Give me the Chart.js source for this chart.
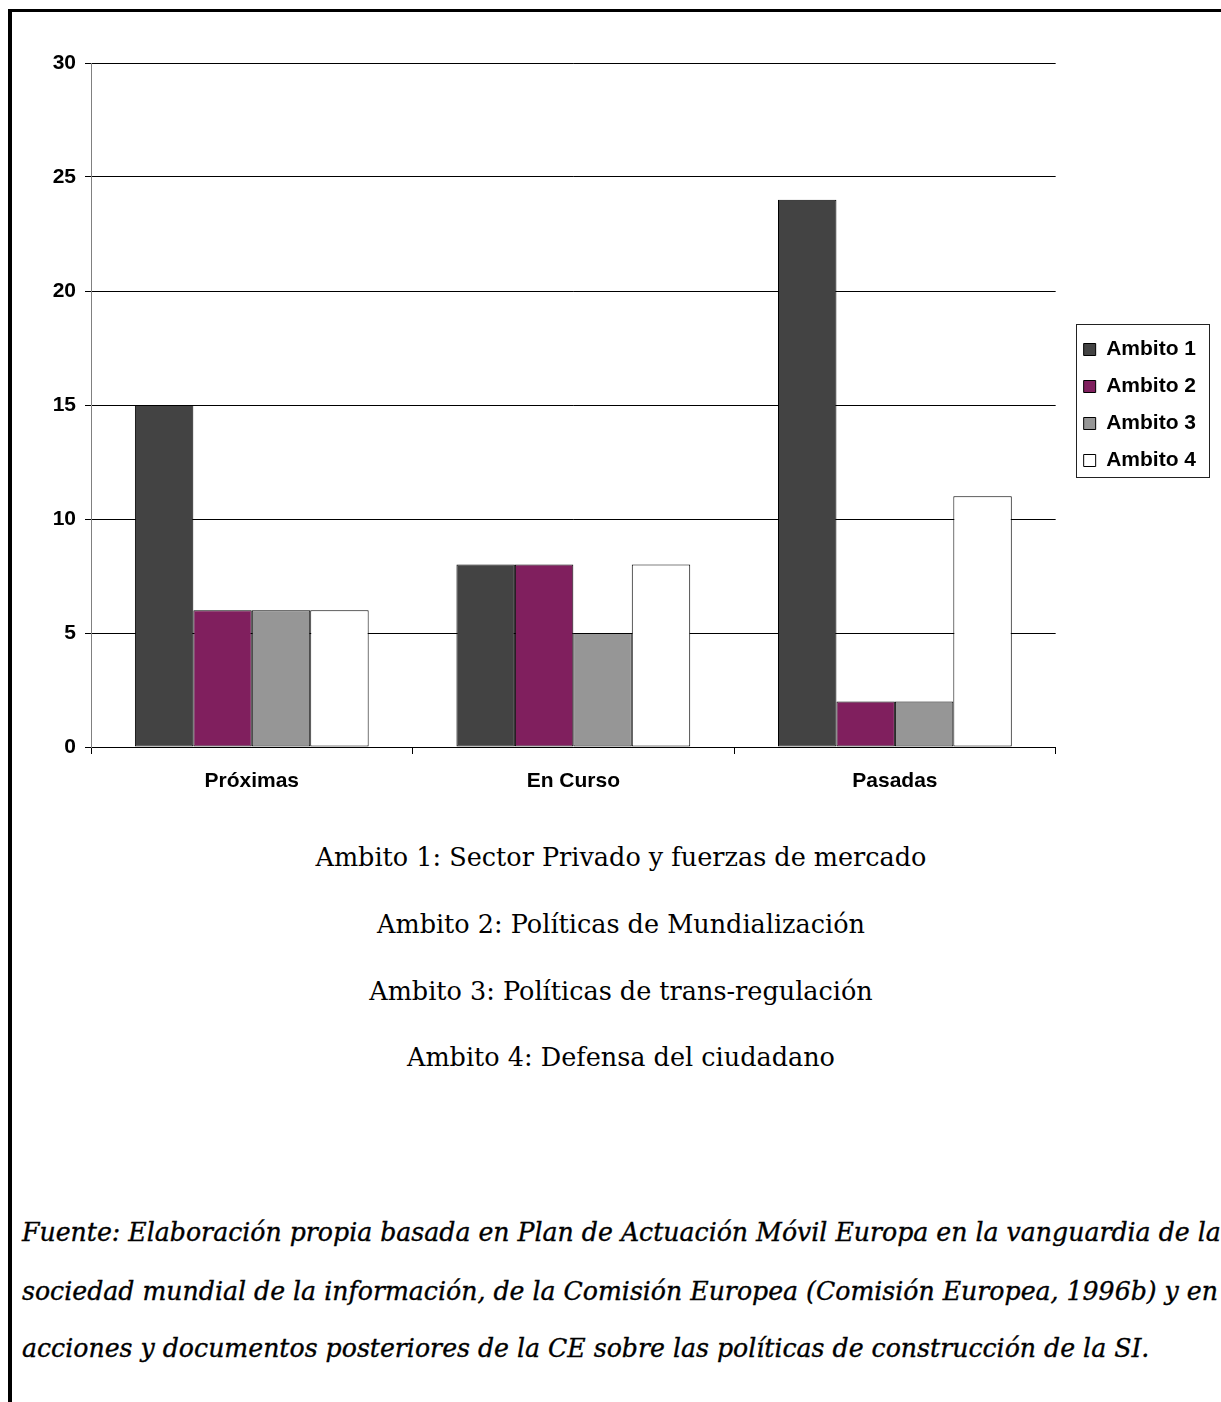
<!DOCTYPE html>
<html lang="es">
<head>
<meta charset="utf-8">
<title>Ámbitos de actuación</title>
<script src="https://cdn.jsdelivr.net/npm/chart.js@4.4.1/dist/chart.umd.min.js"></script>
<style>
  html, body { margin: 0; padding: 0; background: #fff; overflow: hidden; }
  body { width: 1221px; height: 1402px; position: relative; }
  .frame {
    position: absolute; left: 8px; top: 9px; width: 2000px; height: 2000px;
    border-top: 3px solid #000; border-left: 4px solid #000;
  }
  #chart { position: absolute; left: 0; top: 0; }
  .caption {
    position: absolute; left: 0; width: 1242px; height: 40px; line-height: 40px;
    text-align: center; font-family: "DejaVu Serif", serif; font-size: 25.5px; color: #000;
    white-space: nowrap;
  }
  .source {
    position: absolute; left: 22px; height: 40px; line-height: 40px;
    font-family: "DejaVu Serif", serif; font-style: italic; font-size: 25.2px; color: #000;
    -webkit-text-stroke: 0.35px #000;
    white-space: nowrap;
  }
</style>
</head>
<body>
<div class="frame"></div>
<canvas id="chart" width="1221" height="810"></canvas>

<div class="caption" style="top:837px">Ambito 1: Sector Privado y fuerzas de mercado</div>
<div class="caption" style="top:904px">Ambito 2: Políticas de Mundialización</div>
<div class="caption" style="top:971px">Ambito 3: Políticas de trans-regulación</div>
<div class="caption" style="top:1037px">Ambito 4: Defensa del ciudadano</div>

<div class="source" style="top:1213px">Fuente: Elaboración propia basada en Plan de Actuación Móvil Europa en la vanguardia de la</div>
<div class="source" style="top:1272px">sociedad mundial de la información, de la Comisión Europea (Comisión Europea, 1996b) y en</div>
<div class="source" style="top:1329px">acciones y documentos posteriores de la CE sobre las políticas de construcción de la SI.</div>

<script>
// Categories and counts per ámbito
const categories = ['Próximas', 'En Curso', 'Pasadas'];
const seriesNames = ['Ambito 1', 'Ambito 2', 'Ambito 3', 'Ambito 4'];
const ambito1 = [15, 8, 24];
const ambito2 = [6, 8, 2];
const ambito3 = [6, 5, 2];
const ambito4 = [6, 8, 11];
const yMin = 0;
const yMax = 30;
const yStep = 5;

const seriesColors = ['#434343', '#801F5E', '#969696', '#FFFFFF'];
const seriesValues = [ambito1, ambito2, ambito3, ambito4];

const axisFont = { family: '"Liberation Sans", Arial, sans-serif', size: 21, weight: 'bold' };

// Moves the legend slightly right of the plot and frames it with a box
const legendFrame = {
  id: 'legendFrame',
  afterLayout(chart) {
    const lg = chart.legend;
    if (!lg) return;
    lg.left += 12;
    lg.right += 12;
  },
  afterDraw(chart) {
    const boxes = chart.legend && chart.legend.legendHitBoxes;
    if (!boxes || !boxes.length) return;
    let l = Infinity, t = Infinity, r = -Infinity, b = -Infinity;
    boxes.forEach(h => {
      l = Math.min(l, h.left); t = Math.min(t, h.top);
      r = Math.max(r, h.left + h.width); b = Math.max(b, h.top + h.height);
    });
    const ctx = chart.ctx;
    ctx.save();
    ctx.strokeStyle = '#222';
    ctx.lineWidth = 1;
    ctx.strokeRect(Math.round(l - 8) + 0.5, Math.round(t - 15) + 0.5,
                   Math.round(r - l + 21), Math.round(b - t + 21));
    ctx.restore();
  }
};

new Chart(document.getElementById('chart'), {
  type: 'bar',
  data: {
    labels: categories,
    datasets: seriesNames.map((name, i) => ({
      label: name,
      data: seriesValues[i],
      backgroundColor: seriesColors[i],
      borderColor: '#000',
      borderWidth: 1,
      borderSkipped: false,
      categoryPercentage: 0.727,
      barPercentage: 1.0
    }))
  },
  options: {
    responsive: false,
    animation: false,
    devicePixelRatio: 1,
    layout: { padding: { top: 63, left: 0, right: 27, bottom: 0 } },
    plugins: {
      tooltip: { enabled: false },
      legend: {
        position: 'right',
        fullSize: false,
        labels: {
          boxWidth: 12,
          boxHeight: 12,
          padding: 16,
          color: '#000',
          font: axisFont
        }
      }
    },
    scales: {
      x: {
        type: 'category',
        offset: true,
        afterFit(scale) { scale.height = 63; },
        grid: {
          display: true,
          offset: true,
          drawOnChartArea: false,
          drawTicks: true,
          tickLength: 7,
          color: '#000'
        },
        border: { display: true, color: '#000', width: 1 },
        ticks: { color: '#000', font: axisFont, padding: 15, maxRotation: 0 }
      },
      y: {
        min: yMin,
        max: yMax,
        afterFit(scale) { scale.width = 91; },
        ticks: { stepSize: yStep, color: '#000', font: axisFont, padding: 9 },
        grid: { color: '#000', lineWidth: 1, tickLength: 6 },
        border: { display: true, color: '#808080', width: 1 }
      }
    }
  },
  plugins: [legendFrame]
});
</script>
</body>
</html>
